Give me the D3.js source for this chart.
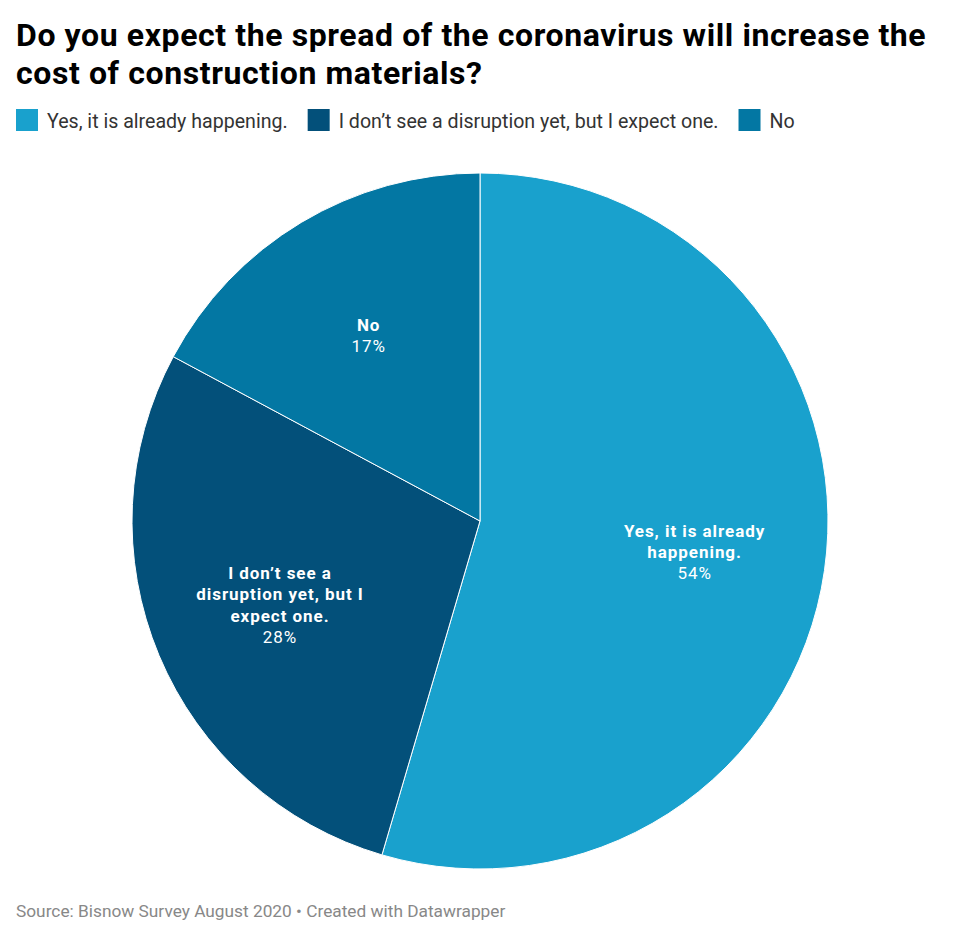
<!DOCTYPE html>
<html>
<head>
<meta charset="utf-8">
<script src="https://cdn.jsdelivr.net/npm/d3@7"></script>
<style>
  body { margin: 0; background: #fff; font-family: Roboto, sans-serif; }
  svg text { font-family: Roboto, sans-serif; }
</style>
</head>
<body>
<svg id="chart" width="960" height="937"></svg>
<script>
// chart data
var categories = ['Yes, it is already happening.', 'I don\u2019t see a disruption yet, but I expect one.', 'No'];
var labelLines = [['Yes, it is already', 'happening.'], ['I don\u2019t see a', 'disruption yet, but I', 'expect one.'], ['No']];
var values = [54, 28, 17];
var colors = ['#19a1cd', '#03507a', '#0377a3'];

var svg = d3.select('#chart');
var cx = 480, cy = 521, R = 348;

// title
var title = svg.append('text')
    .attr('x', 16)
    .attr('y', 46)
    .attr('font-size', 32)
    .attr('font-weight', 700)
    .attr('letter-spacing', 0.6)
    .attr('fill', '#000');
title.append('tspan').attr('x', 16).text('Do you expect the spread of the coronavirus will increase the');
title.append('tspan').attr('x', 16).attr('dy', 38).text('cost of construction materials?');

// legend
var legend = svg.append('g').attr('class', 'legend');
var lx = 16;
categories.forEach(function(c, i) {
    var g = legend.append('g').attr('transform', 'translate(' + lx + ',109)');
    g.append('rect').attr('width', 22).attr('height', 22).attr('fill', colors[i]);
    var t = g.append('text')
        .attr('x', 31)
        .attr('y', 18.5)
        .attr('font-size', 19.6)
        .attr('fill', '#333')
        .text(c);
    lx += 31 + t.node().getComputedTextLength() + 20;
});

// pie
var pie = d3.pie().sort(null).value(function(d) { return d; });
var arc = d3.arc().innerRadius(0).outerRadius(R);
var arcs = pie(values);

var g = svg.append('g').attr('transform', 'translate(' + cx + ',' + cy + ')');

g.selectAll('path')
    .data(arcs)
    .join('path')
    .attr('d', arc)
    .attr('fill', function(d, i) { return colors[i]; })
    .attr('stroke', '#fff')
    .attr('stroke-width', 1);

// labels sit on a ring at ~62% of the radius
var labelArc = d3.arc().innerRadius(R * 0.623).outerRadius(R * 0.623);
var lineH = 21.3;

g.selectAll('text.lbl')
    .data(arcs)
    .join('text')
    .attr('class', 'lbl')
    .attr('text-anchor', 'middle')
    .attr('fill', '#fff')
    .attr('font-size', 17)
    .attr('letter-spacing', 0.95)
    .each(function(d, i) {
        var c = labelArc.centroid(d);
        var lines = labelLines[i];
        var n = lines.length + 1;
        var y0 = c[1] - (n - 1) * lineH / 2 + 6.3;
        var t = d3.select(this);
        lines.forEach(function(l, j) {
            t.append('tspan')
                .attr('x', c[0])
                .attr('y', y0 + j * lineH)
                .attr('font-weight', 700)
                .text(l);
        });
        t.append('tspan')
            .attr('x', c[0])
            .attr('y', y0 + lines.length * lineH)
            .text(values[i] + '%');
    });

// footer
svg.append('text')
    .attr('x', 16)
    .attr('y', 917)
    .attr('font-size', 17.3)
    .attr('fill', '#888')
    .text('Source: Bisnow Survey August 2020 \u2022 Created with Datawrapper');
</script>
</body>
</html>
